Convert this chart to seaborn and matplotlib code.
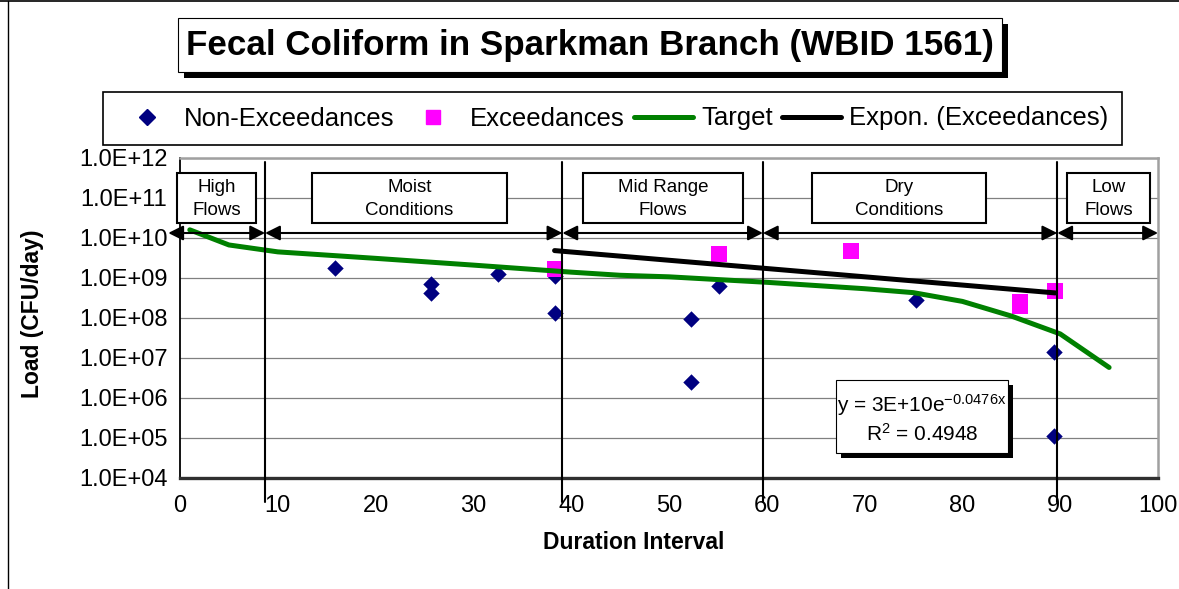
import numpy as np
import pandas as pd
import matplotlib
matplotlib.use("Agg")
import matplotlib.pyplot as plt
import matplotlib.transforms as mtransforms
from matplotlib.patches import Rectangle
from matplotlib.lines import Line2D
from matplotlib.ticker import FixedLocator, FuncFormatter, NullLocator
import seaborn as sns

# ---------------- data ----------------
non_exc_x = [15.85, 25.7, 25.7, 32.5, 38.3, 38.3, 52.2, 52.2, 55.1, 75.3, 89.4, 89.4]
non_exc_y = [1.75e9, 6.9e8, 4.3e8, 1.24e9, 1.1e9, 1.36e8, 9.4e7, 2.5e6, 6.4e8, 2.9e8, 1.44e7, 1.1e5]

exc_x = [38.3, 55.1, 68.6, 85.9, 85.9, 89.5]
exc_y = [1.65e9, 4.0e9, 4.8e9, 2.5e8, 2.0e8, 4.8e8]

target_x = [1, 5, 10, 20, 30, 40, 45, 50, 60, 70, 75, 80, 85, 90, 95]
target_y = [1.6e10, 6.7e9, 4.5e9, 3.1e9, 2.1e9, 1.4e9, 1.17e9, 1.07e9, 7.8e8,
            5.4e8, 4.3e8, 2.6e8, 1.12e8, 4.0e7, 5.8e6]

trend_a = 3e10
trend_b = -0.0476
trend_r2 = 0.4948

zone_bounds = [8.7, 39.1, 59.6, 89.7]
zone_labels = ["High\nFlows", "Moist\nConditions", "Mid Range\nFlows", "Dry\nConditions", "Low\nFlows"]
x_ticks = [0, 10, 20, 30, 40, 50, 60, 70, 80, 90, 100]
y_ticks = [1e4, 1e5, 1e6, 1e7, 1e8, 1e9, 1e10, 1e11, 1e12]

title = "Fecal Coliform in Sparkman Branch (WBID 1561)"
legend_labels = ["Non-Exceedances", "Exceedances", "Target", "Expon. (Exceedances)"]

# ---------------- style ----------------
sns.set_theme(style="white")
plt.rcParams['font.family'] = ['Liberation Sans', 'DejaVu Sans']
plt.rcParams['mathtext.fontset'] = 'custom'
plt.rcParams['mathtext.rm'] = 'Liberation Sans'
plt.rcParams['mathtext.it'] = 'Liberation Sans'
plt.rcParams['mathtext.bf'] = 'Liberation Sans:bold'
for k in ['text.color', 'axes.labelcolor', 'xtick.color', 'ytick.color']:
    plt.rcParams[k] = 'black'

W, H = 1179, 589
fig = plt.figure(figsize=(W / 100, H / 100), dpi=100)
fig.patch.set_facecolor("white")

# plot area in pixels: left 180, right 1158, top 158, bottom 478
L, R, T, B = 180, 1158, 158, 478
ax = fig.add_axes([L / W, 1 - B / H, (R - L) / W, (B - T) / H])
ax.set_facecolor("white")

NAVY = "#000080"
MAGENTA = "#FF00FF"
GREEN = "#008000"

df_non = pd.DataFrame({"x": non_exc_x, "y": non_exc_y})
df_exc = pd.DataFrame({"x": exc_x, "y": exc_y})
df_target = pd.DataFrame({"x": target_x, "y": target_y})
trend_xs = np.linspace(min(exc_x), max(exc_x), 60)
df_trend = pd.DataFrame({"x": trend_xs, "y": trend_a * np.exp(trend_b * trend_xs)})

sns.scatterplot(data=df_non, x="x", y="y", ax=ax, marker="D", s=70, color=NAVY,
                linewidth=0, zorder=3, legend=False)
sns.scatterplot(data=df_exc, x="x", y="y", ax=ax, marker="s", s=125, color=MAGENTA,
                linewidth=0, zorder=4, legend=False)
sns.lineplot(data=df_target, x="x", y="y", ax=ax, color=GREEN, linewidth=3.6,
             estimator=None, sort=False, zorder=5, legend=False)
sns.lineplot(data=df_trend, x="x", y="y", ax=ax, color="black", linewidth=3.6,
             estimator=None, sort=False, zorder=6, legend=False)

ax.set_yscale("log")
ax.set_xlim(0, 100)
ax.set_ylim(1e4, 1e12)
ax.xaxis.set_major_locator(FixedLocator(x_ticks))
ax.yaxis.set_major_locator(FixedLocator(y_ticks))
ax.yaxis.set_minor_locator(NullLocator())
ax.yaxis.set_major_formatter(FuncFormatter(lambda v, p: "1.0E+%02d" % int(round(np.log10(v)))))
ax.tick_params(axis="both", which="major", labelsize=17, direction="out", length=4,
               width=1, color="black", labelcolor="black", pad=5)
ax.tick_params(axis="x", pad=8)
ax.yaxis.grid(True, color="#808080", linewidth=0.9)
ax.xaxis.grid(False)
ax.set_axisbelow(True)

ax.spines["left"].set_color("black")
ax.spines["left"].set_linewidth(1.3)
ax.spines["bottom"].set_color("#303030")
ax.spines["bottom"].set_linewidth(2.4)
for s in ["top", "right"]:
    ax.spines[s].set_color("#a0a0a0")
    ax.spines[s].set_linewidth(1.8)

ax.set_xlabel("Duration Interval", fontsize=16.5, fontweight="bold", color="black")
ax.set_ylabel("Load (CFU/day)", fontsize=16.5, fontweight="bold", color="black")
ax.xaxis.set_label_coords((634 - L) / (R - L), (B - 531) / (B - T))
ax.yaxis.set_label_coords((44 - L) / (R - L), (B - 314) / (B - T))

# ---------------- flow zones ----------------
trans = mtransforms.blended_transform_factory(ax.transData, ax.transAxes)
for xb in zone_bounds:
    ax.plot([xb, xb], [(B - 162) / (B - T), (B - 502) / (B - T)], transform=trans,
            color="black", lw=1.5, clip_on=False, zorder=7)

arrow_y = (B - 233) / (B - T)
edges = [-1.2] + zone_bounds + [100]
for a, b in zip(edges[:-1], edges[1:]):
    ax.annotate("", xy=(b, arrow_y), xytext=(a, arrow_y), xycoords=trans, textcoords=trans,
                arrowprops=dict(arrowstyle="<|-|>,head_length=0.9,head_width=0.45",
                                color="black", lw=1.5, shrinkA=0, shrinkB=0,
                                mutation_scale=10),
                annotation_clip=False, zorder=7)

box_edges = [(-0.3, 7.8), (13.5, 33.4), (41.2, 57.6), (64.6, 82.4), (90.7, 99.2)]
box_y0, box_y1 = (B - 223) / (B - T), (B - 173) / (B - T)
for (x0, x1), lab in zip(box_edges, zone_labels):
    ax.add_patch(Rectangle((x0, box_y0), x1 - x0, box_y1 - box_y0, transform=trans,
                           facecolor="white", edgecolor="black", lw=1.5, clip_on=False,
                           zorder=8))
    ax.text((x0 + x1) / 2, (box_y0 + box_y1) / 2 - 0.003, lab, transform=trans, ha="center",
            va="center", fontsize=13.5, linespacing=1.45, color="black", zorder=9)

# ---------------- equation box ----------------
ex0, ex1 = (836 - L) / (R - L), (1008 - L) / (R - L)
ey0, ey1 = (B - 453) / (B - T), (B - 380) / (B - T)
dx, dy = 5 / (R - L), 5 / (B - T)
ax.add_patch(Rectangle((ex0 + dx, ey0 - dy), ex1 - ex0, ey1 - ey0, transform=ax.transAxes,
                       facecolor="black", edgecolor="black", lw=0, zorder=9, clip_on=False))
ax.add_patch(Rectangle((ex0, ey0), ex1 - ex0, ey1 - ey0, transform=ax.transAxes,
                       facecolor="white", edgecolor="black", lw=0.8, zorder=10, clip_on=False))
exc_cx = (ex0 + ex1) / 2
ax.text(exc_cx, (B - 405) / (B - T), r"y = 3E+10e$^{\mathrm{-0.0476x}}$", transform=ax.transAxes,
        ha="center", va="center", fontsize=15, color="black", zorder=11)
ax.text(exc_cx, (B - 434) / (B - T), r"R$^{\mathrm{2}}$ = %.4f" % trend_r2, transform=ax.transAxes,
        ha="center", va="center", fontsize=15, color="black", zorder=11)

# ---------------- overlay: frame, title, legend ----------------
ov = fig.add_axes([0, 0, 1, 1], facecolor="none")
ov.set_xlim(0, W)
ov.set_ylim(H, 0)
ov.axis("off")
ov.plot([8, 8], [1, H], color="black", lw=1)
ov.plot([0, W], [1, 1], color="black", lw=1.2)

ov.add_patch(Rectangle((184, 24), 824, 54, facecolor="black", edgecolor="black", lw=0))
ov.add_patch(Rectangle((178, 18), 824, 54, facecolor="white", edgecolor="black", lw=0.8))
ov.text(590, 46, title, ha="center", va="center", fontsize=25.2, fontweight="bold", color="black")

handles = [
    Line2D([], [], marker="D", color=NAVY, linestyle="None", markersize=8),
    Line2D([], [], marker="s", color=MAGENTA, linestyle="None", markersize=10),
    Line2D([], [], color=GREEN, lw=3.6),
    Line2D([], [], color="black", lw=3.6),
]
leg = ov.legend(handles, legend_labels, loc="center", ncol=4, mode="expand",
                bbox_to_anchor=(103 / W, 1 - 147 / H, 1019 / W, 57 / H),
                bbox_transform=fig.transFigure, fontsize=18.5, frameon=True,
                fancybox=False, shadow=False, framealpha=1, edgecolor="black",
                handlelength=2.3, handletextpad=0.3, borderpad=0.55, borderaxespad=0,
                labelcolor="black")
leg.get_frame().set_linewidth(1.2)

fig.savefig("out.png", dpi=100, facecolor="white")
